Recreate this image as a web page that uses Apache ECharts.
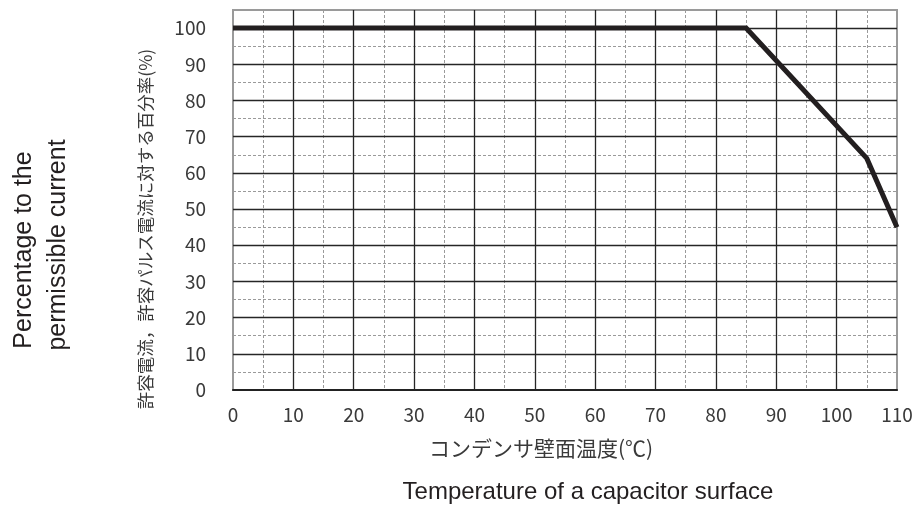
<!DOCTYPE html>
<html>
<head>
<meta charset="utf-8">
<script src="https://cdn.jsdelivr.net/npm/echarts@6/dist/echarts.min.js"></script>
<style>
html,body{margin:0;padding:0;background:#fff;}
#c{width:916px;height:509px;}
</style>
</head>
<body>
<div id="c"></div>
<script>
// Data
const temperature = [0, 85, 105, 110];
const percentage = [100, 100, 64, 45];
const xTicks = [0, 10, 20, 30, 40, 50, 60, 70, 80, 90, 100, 110];
const yTicks = [0, 10, 20, 30, 40, 50, 60, 70, 80, 90, 100];
const xNameJa = 'コンデンサ壁面温度(℃)';
const yNameJa = '許容電流，許容パルス電流に対する百分率(%)';
const xNameEn = 'Temperature of a capacitor surface';
const yNameEn1 = 'Percentage to the';
const yNameEn2 = 'permissible current';

const chart = echarts.init(document.getElementById('c'), null, {renderer: 'canvas'});
const labelFont = {fontFamily: 'Noto Sans CJK JP', fontSize: 19, color: '#3a3a3a', fontWeight: 'normal'};
const major = {lineStyle: {color: '#262626', width: 1.3, type: 'solid'}, showMinLine: false, showMaxLine: false};
const minor = {lineStyle: {color: '#9a9a9a', width: 1, type: [3, 2]}, showMinLine: false, showMaxLine: false};

const option = {
  animation: false,
  backgroundColor: '#fff',
  grid: {left: 233, right: 19, top: 10, bottom: 119, show: true, borderColor: '#9a9a9a', borderWidth: 2, backgroundColor: 'transparent'},
  xAxis: [
    {type: 'value', min: xTicks[0], max: xTicks[xTicks.length - 1], interval: 10, z: 2,
     axisLine: {show: true, onZero: false, lineStyle: {color: '#222', width: 2}},
     axisTick: {show: false}, splitLine: Object.assign({show: true}, major),
     axisLabel: Object.assign({margin: 15}, labelFont)},
    {type: 'value', min: xTicks[0], max: xTicks[xTicks.length - 1], interval: 5, z: 1, position: 'bottom',
     axisLine: {show: false}, axisTick: {show: false}, axisLabel: {show: false},
     splitLine: Object.assign({show: true}, minor)}
  ],
  yAxis: [
    {type: 'value', min: yTicks[0], max: 105, interval: 10, z: 2,
     axisLine: {show: false}, axisTick: {show: false},
     splitLine: Object.assign({show: true}, major),
     axisLabel: Object.assign({margin: 27, showMaxLabel: false}, labelFont)},
    {type: 'value', min: yTicks[0], max: 105, interval: 5, z: 1, position: 'left',
     axisLine: {show: false}, axisTick: {show: false}, axisLabel: {show: false},
     splitLine: Object.assign({show: true}, minor)}
  ],
  series: [{
    type: 'line', xAxisIndex: 0, yAxisIndex: 0, z: 5,
    data: temperature.map((t, i) => [t, percentage[i]]),
    showSymbol: false, symbol: 'none',
    lineStyle: {color: '#231f20', width: 5, join: 'miter', cap: 'butt'}
  }],
  graphic: [
    {type: 'text', x: 541, y: 448, style: {text: xNameJa, fontFamily: 'Noto Sans CJK JP', fontSize: 21, fontWeight: 'normal', fill: '#3a3a3a', align: 'center', verticalAlign: 'middle'}},
    {type: 'text', x: 145, y: 229, rotation: Math.PI / 2, style: {text: yNameJa, fontFamily: 'Noto Sans CJK JP', fontSize: 17.5, fontWeight: 'normal', fill: '#3a3a3a', align: 'center', verticalAlign: 'middle'}},
    {type: 'text', x: 588, y: 492, style: {text: xNameEn, fontFamily: 'Liberation Sans', fontSize: 24, fill: '#231f20', align: 'center', verticalAlign: 'middle'}},
    {type: 'text', x: 24, y: 250, rotation: Math.PI / 2, style: {text: yNameEn1, fontFamily: 'Liberation Sans', fontSize: 25, fill: '#231f20', align: 'center', verticalAlign: 'middle'}},
    {type: 'text', x: 58, y: 245, rotation: Math.PI / 2, style: {text: yNameEn2, fontFamily: 'Liberation Sans', fontSize: 25, fill: '#231f20', align: 'center', verticalAlign: 'middle'}}
  ]
};
chart.setOption(option);
</script>
</body>
</html>
